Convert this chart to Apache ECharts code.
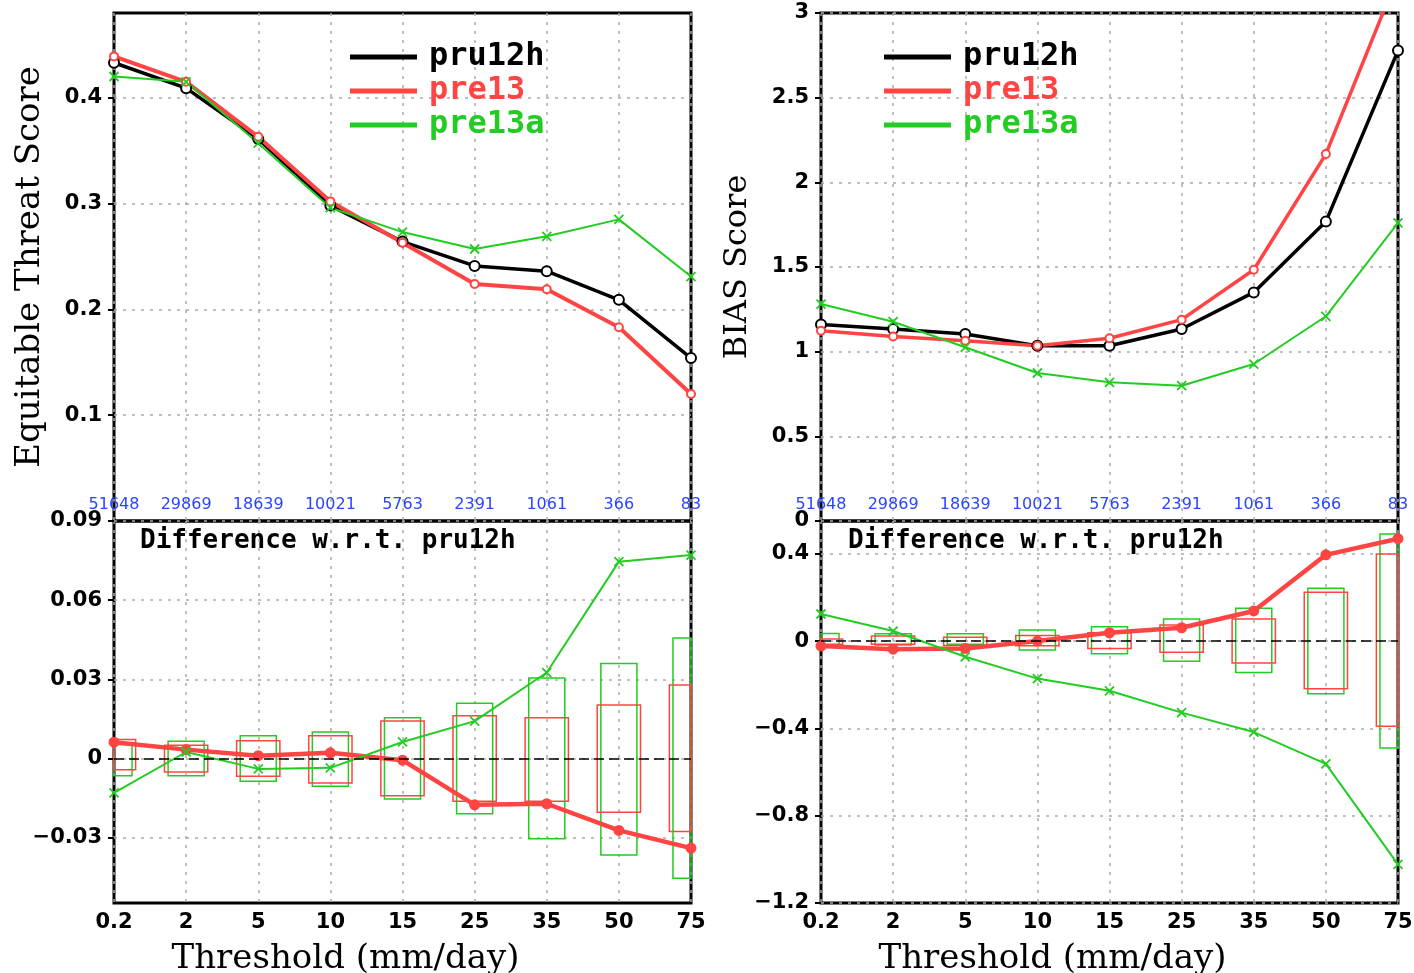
<!DOCTYPE html>
<html><head><meta charset="utf-8">
<script src="https://cdn.jsdelivr.net/npm/echarts@6/dist/echarts.min.js"></script>
<style>html,body{margin:0;padding:0;background:#fff}#c{width:1414px;height:973px}</style>
</head><body><div id="c"></div>
<script>
// ---------------- data ----------------
const thresholds = ['0.2','2','5','10','15','25','35','50','75'];
const obsCounts  = ['51648','29869','18639','10021','5763','2391','1061','366','83'];
const seriesNames = ['pru12h','pre13','pre13a'];

// Equitable Threat Score
const etsPru12h = [0.433,0.409,0.361,0.298,0.264,0.241,0.236,0.209,0.154];
const etsPre13  = [0.439,0.415,0.363,0.302,0.263,0.224,0.219,0.183,0.120];
const etsPre13a = [0.420,0.415,0.357,0.296,0.273,0.257,0.269,0.285,0.231];

// ETS difference w.r.t. pru12h
const etsDiffPre13  = [0.0062,0.0034,0.0011,0.0022,-0.0006,-0.0175,-0.0171,-0.0272,-0.0339];
const etsDiffPre13a = [-0.0130,0.0025,-0.0039,-0.0035,0.0063,0.0142,0.0326,0.0746,0.0771];
// ETS difference significance boxes [low, high]
const etsBoxPre13Low   = [-0.0042,-0.0051,-0.0067,-0.0092,-0.0141,-0.0162,-0.0162,-0.0203,-0.0276];
const etsBoxPre13High  = [0.0072,0.0051,0.0068,0.0087,0.0142,0.0162,0.0155,0.0203,0.0279];
const etsBoxPre13aLow  = [-0.0065,-0.0065,-0.0086,-0.0105,-0.0153,-0.0209,-0.0304,-0.0365,-0.0453];
const etsBoxPre13aHigh = [0.0053,0.0066,0.0087,0.0101,0.0155,0.0210,0.0305,0.0360,0.0457];

// BIAS score
const biasPru12h = [1.160,1.134,1.104,1.035,1.035,1.134,1.350,1.768,2.778];
const biasPre13  = [1.124,1.090,1.065,1.035,1.079,1.189,1.484,2.167,3.220];
const biasPre13a = [1.281,1.177,1.026,0.874,0.819,0.799,0.927,1.209,1.760];

// BIAS difference w.r.t. pru12h
const biasDiffPre13  = [-0.023,-0.037,-0.034,0.000,0.038,0.061,0.138,0.395,0.469];
const biasDiffPre13a = [0.124,0.046,-0.072,-0.172,-0.228,-0.328,-0.417,-0.563,-1.023];
const biasBoxPre13Low   = [-0.015,-0.015,-0.020,-0.021,-0.034,-0.051,-0.100,-0.218,-0.390];
const biasBoxPre13High  = [0.009,0.023,0.017,0.025,0.038,0.074,0.101,0.224,0.399];
const biasBoxPre13aLow  = [-0.018,-0.018,-0.015,-0.041,-0.058,-0.092,-0.144,-0.241,-0.490];
const biasBoxPre13aHigh = [0.035,0.034,0.034,0.051,0.066,0.101,0.150,0.242,0.490];

// tick label values
const etsTicks      = [0.1,0.2,0.3,0.4];
const etsDiffTicks  = [-0.03,0,0.03,0.06,0.09];
const biasDiffTicks = [-1.2,-0.8,-0.4,0,0.4];

// ---------------- styles ----------------
const RED = '#ff4444', GREEN = '#22cc22', BLACK = '#000000', BLUE = '#2a45ff';
const xSym = 'path://M0,0L10,10M10,0L0,10';
const tickFont = {fontFamily:'DejaVu Sans', fontWeight:'bold', fontSize:21, color:'#000'};
const gridLine = {show:true, lineStyle:{color:'#aaaaaa', type:[3,6], width:1.5}};

const chart = echarts.init(document.getElementById('c'));

function boxData(lo, hi){ return lo.map((v,i)=>[i, v, hi[i]]); }
function boxRender(halfFrac, color){
  return function(params, api){
    const i = api.value(0);
    const lo = api.coord([i, api.value(1)]);
    const hi = api.coord([i, api.value(2)]);
    const w = api.size([1,0])[0] * halfFrac;
    const cs = params.coordSys;
    const x0 = Math.max(lo[0]-w, cs.x), x1 = Math.min(lo[0]+w, cs.x+cs.width);
    return {type:'rect', shape:{x:x0, y:hi[1], width:x1-x0, height:lo[1]-hi[1]},
            style:{fill:'none', stroke:color, lineWidth:1.5}};
  };
}
function boxSeries(lo, hi, axis, frac, color){
  return {type:'custom', xAxisIndex:axis, yAxisIndex:axis, data:boxData(lo,hi),
          renderItem:boxRender(frac,color), encode:{x:0,y:[1,2]}, silent:true, z:1};
}
function line(name, data, axis, color, width, symbol, size){
  return {type:'line', name, data, xAxisIndex:axis, yAxisIndex:axis,
    lineStyle:{color, width}, symbol, symbolSize:size, z:3,
    itemStyle:{color, borderColor:color, borderWidth: symbol===xSym?1.8:2}};
}
const zeroLine = {silent:true, symbol:'none', label:{show:false},
  lineStyle:{color:'#000', type:[10,5], width:1.5}, data:[{yAxis:0}]};

function xAxisTop(gi){
  return {type:'category', gridIndex:gi, data:thresholds, boundaryGap:false,
    axisLine:{show:false}, axisTick:{show:false},
    axisLabel:{inside:true, margin:8, color:BLUE, fontFamily:'DejaVu Sans', fontSize:16,
      formatter:(v,i)=>obsCounts[i]},
    splitLine:gridLine};
}
function xAxisBottom(gi){
  return {type:'category', gridIndex:gi, data:thresholds, boundaryGap:false,
    axisLine:{show:false}, axisTick:{show:false},
    axisLabel:Object.assign({margin:9}, tickFont),
    splitLine:gridLine,
    name:'Threshold (mm/day)', nameLocation:'middle', nameGap:39,
    nameTextStyle:{fontFamily:'DejaVu Serif', fontSize:34, color:'#000', padding:[0,114,0,0]}};
}
const yTick = {show:true, inside:false, length:6, lineStyle:{color:'#000', width:2}};
const gridBase = {show:true, borderColor:'#000', borderWidth:3, outerBoundsMode:'none', containLabel:false};

const option = {
  animation:false,
  backgroundColor:'#fff',
  grid:[
    Object.assign({left:114, top:13, width:577, height:508}, gridBase),
    Object.assign({left:114, top:521, width:577, height:382}, gridBase),
    Object.assign({left:821, top:13, width:577, height:508}, gridBase),
    Object.assign({left:821, top:521, width:577, height:382}, gridBase)
  ],
  xAxis:[xAxisTop(0), xAxisBottom(1), xAxisTop(2), xAxisBottom(3)],
  yAxis:[
    {type:'value', gridIndex:0, min:0, max:0.48,
      axisLine:{show:false}, axisTick:Object.assign({customValues:etsTicks}, yTick),
      axisLabel:Object.assign({customValues:etsTicks, margin:12}, tickFont),
      splitLine:gridLine,
      name:'Equitable Threat Score', nameLocation:'middle', nameGap:67,
      nameTextStyle:{fontFamily:'DejaVu Serif', fontSize:34, color:'#000'}},
    {type:'value', gridIndex:1, min:-0.0547, max:0.09,
      axisLine:{show:false}, axisTick:Object.assign({customValues:etsDiffTicks}, yTick),
      axisLabel:Object.assign({customValues:etsDiffTicks, margin:12,
        formatter:v=>Math.abs(v)<1e-9?'0':(v<0?'\u2212':'')+Math.abs(v).toFixed(2)}, tickFont),
      splitLine:gridLine},
    {type:'value', gridIndex:2, min:0, max:3, interval:0.5,
      axisLine:{show:false}, axisTick:yTick,
      axisLabel:Object.assign({margin:12}, tickFont),
      splitLine:gridLine,
      name:'BIAS Score', nameLocation:'middle', nameGap:67,
      nameTextStyle:{fontFamily:'DejaVu Serif', fontSize:32, color:'#000'}},
    {type:'value', gridIndex:3, min:-1.2, max:0.55,
      axisLine:{show:false}, axisTick:Object.assign({customValues:biasDiffTicks}, yTick),
      axisLabel:Object.assign({customValues:biasDiffTicks, margin:12,
        formatter:v=>Math.abs(v)<1e-9?'0':(v<0?'\u2212':'')+Math.abs(v).toFixed(1)}, tickFont),
      splitLine:gridLine}
  ],
  legend:[0,1].map(k=>({
    orient:'vertical', left: k===0?345:879, top:36, itemWidth:65, itemHeight:3, itemGap:2,
    icon:'rect', selectedMode:false,
    textStyle:{fontFamily:'DejaVu Sans Mono', fontWeight:'bold', fontSize:32, padding:[0,0,0,8]},
    data:[
      {name:'pru12h', textStyle:{color:BLACK}},
      {name:'pre13', textStyle:{color:RED}},
      {name:'pre13a', textStyle:{color:GREEN}}
    ]
  })),
  graphic:[
    {type:'text', left:140, top:528, style:{text:'Difference w.r.t. pru12h',
      font:'bold 26px "DejaVu Sans Mono"', fill:'#000'}},
    {type:'text', left:848, top:528, style:{text:'Difference w.r.t. pru12h',
      font:'bold 26px "DejaVu Sans Mono"', fill:'#000'}}
  ],
  series:[
    line('pru12h', etsPru12h, 0, BLACK, 3.5, 'emptyCircle', 10),
    line('pre13', etsPre13, 0, RED, 4, 'emptyCircle', 8),
    line('pre13a', etsPre13a, 0, GREEN, 2, xSym, 9),

    boxSeries(etsBoxPre13aLow, etsBoxPre13aHigh, 1, 0.25, GREEN),
    boxSeries(etsBoxPre13Low, etsBoxPre13High, 1, 0.30, RED),
    Object.assign(line('pre13', etsDiffPre13, 1, RED, 4.5, 'circle', 9), {markLine:zeroLine}),
    line('pre13a', etsDiffPre13a, 1, GREEN, 2, xSym, 9),

    line('pru12h', biasPru12h, 2, BLACK, 3.5, 'emptyCircle', 10),
    line('pre13', biasPre13, 2, RED, 3.5, 'emptyCircle', 8),
    line('pre13a', biasPre13a, 2, GREEN, 2, xSym, 9),

    boxSeries(biasBoxPre13aLow, biasBoxPre13aHigh, 3, 0.25, GREEN),
    boxSeries(biasBoxPre13Low, biasBoxPre13High, 3, 0.30, RED),
    Object.assign(line('pre13', biasDiffPre13, 3, RED, 4.5, 'circle', 9), {markLine:zeroLine}),
    line('pre13a', biasDiffPre13a, 3, GREEN, 2, xSym, 9)
  ]
};
chart.setOption(option);
</script>
</body></html>
